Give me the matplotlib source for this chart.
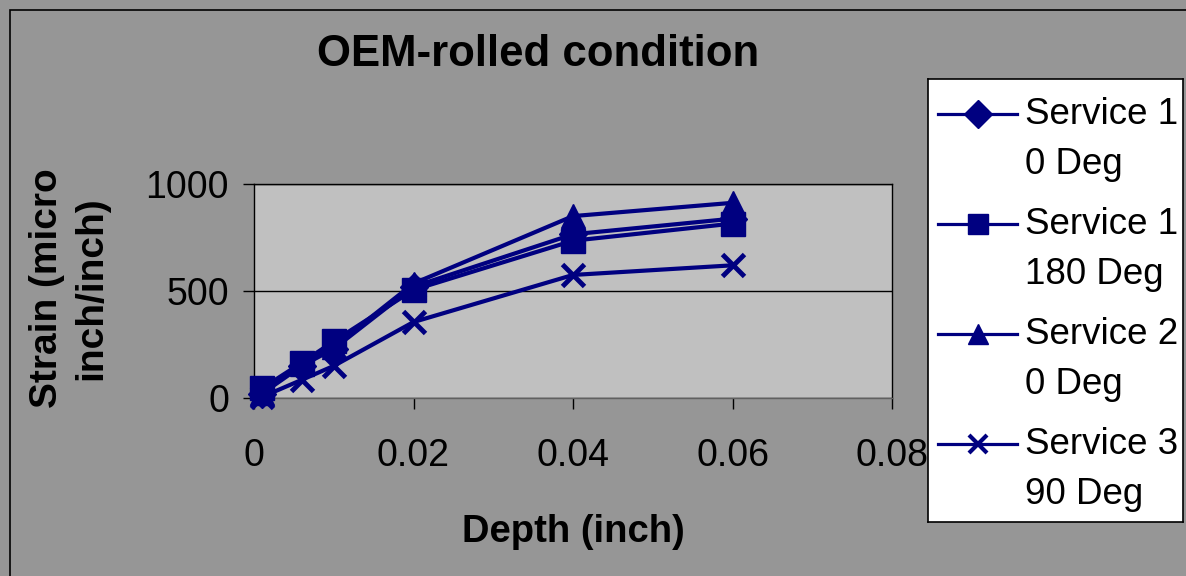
import matplotlib
matplotlib.use("Agg")
import matplotlib.pyplot as plt
from matplotlib.patches import Rectangle
from matplotlib.lines import Line2D

plt.rcParams['font.family'] = ['Liberation Sans', 'DejaVu Sans']

# Measurement depths (inch) and strain readings (micro inch/inch)
depth = [0.001, 0.006, 0.01, 0.02, 0.04, 0.06]
service1_0deg = [20, 150, 230, 520, 765, 838]
service1_180deg = [45, 165, 265, 505, 735, 815]
service2_0deg = [25, 160, 240, 535, 850, 912]
service3_90deg = [5, 85, 150, 355, 575, 620]

series_labels = ["Service 1\n0 Deg", "Service 1\n180 Deg", "Service 2\n0 Deg", "Service 3\n90 Deg"]
x_ticks = [0, 0.02, 0.04, 0.06, 0.08]
y_ticks = [0, 500, 1000]

NAVY = "#000080"
W, H = 1186, 576

fig = plt.figure(figsize=(W / 100, H / 100), dpi=100, facecolor="#969696")

# chart frame
fig.patches.append(Rectangle((10 / W, -0.1), 1.2, 1 - 10 / H + 0.1, transform=fig.transFigure,
                             facecolor="none", edgecolor="black", linewidth=1.2, zorder=0))

ax = fig.add_axes([254 / W, 1 - 398 / H, (892 - 254) / W, (398 - 184) / H])
ax.set_facecolor("#c0c0c0")

styles = [
    dict(marker="D", markersize=14),
    dict(marker="s", markersize=17),
    dict(marker="^", markersize=17),
    dict(marker="x", markersize=16, markeredgewidth=3.5),
]
data = [service1_0deg, service1_180deg, service2_0deg, service3_90deg]
for vals, st in zip(data, styles):
    ax.plot(depth, vals, color=NAVY, linewidth=3.0, markerfacecolor=NAVY,
            markeredgecolor=NAVY, clip_on=False, zorder=3, **st)

ax.set_xlim(0, 0.08)
ax.set_ylim(0, 1000)
ax.set_xticks(x_ticks)
ax.set_xticklabels(["0", "0.02", "0.04", "0.06", "0.08"])
ax.set_yticks(y_ticks)
ax.set_yticklabels([str(v) for v in y_ticks])
ax.grid(axis="y", color="black", linewidth=1.0)
ax.set_axisbelow(True)
for s in ax.spines.values():
    s.set_color("black")
    s.set_linewidth(1.0)
ax.spines["bottom"].set_color("#606060")
ax.tick_params(axis="both", direction="out", length=8, width=1.0, colors="black",
               labelsize=27)
ax.tick_params(axis="y", pad=10)
ax.tick_params(axis="x", pad=21)

fig.text(538 / W, 1 - 54 / H, "OEM-rolled condition", ha="center", va="center",
         fontsize=31.5, fontweight="bold")
fig.text(573 / W, 1 - 532 / H, "Depth (inch)", ha="center", va="center",
         fontsize=27.5, fontweight="bold")
fig.text(69 / W, 1 - 288 / H, "Strain (micro\ninch/inch)", ha="center", va="center",
         rotation=90, fontsize=28, fontweight="bold", linespacing=1.3)

# legend panel
lx0, ly0, lx1, ly1 = 928, 79, 1183, 522
lax = fig.add_axes([lx0 / W, 1 - ly1 / H, (lx1 - lx0) / W, (ly1 - ly0) / H], zorder=5)
lax.set_xlim(0, lx1 - lx0)
lax.set_ylim(ly1 - ly0, 0)
lax.set_facecolor("white")
lax.set_xticks([])
lax.set_yticks([])
for s in lax.spines.values():
    s.set_color("black")
    s.set_linewidth(1.2)

legend_ms = [14, 15, 15, 13]
for i, (lab, st) in enumerate(zip(series_labels, styles)):
    yc = 35 + 110 * i
    st2 = dict(st)
    st2["markersize"] = legend_ms[i]
    if "markeredgewidth" in st2:
        st2["markeredgewidth"] = 3.0
    lax.add_line(Line2D([10, 89], [yc, yc], color=NAVY, linewidth=2.3))
    lax.add_line(Line2D([50], [yc], color=NAVY, linestyle="none",
                        markerfacecolor=NAVY, markeredgecolor=NAVY, **st2))
    first, second = lab.split("\n")
    lax.text(97, yc, first, ha="left", va="center", fontsize=26.5)
    lax.text(97, yc + 50, second, ha="left", va="center", fontsize=26.5)

fig.savefig("out.png", dpi=100, facecolor=fig.get_facecolor())
